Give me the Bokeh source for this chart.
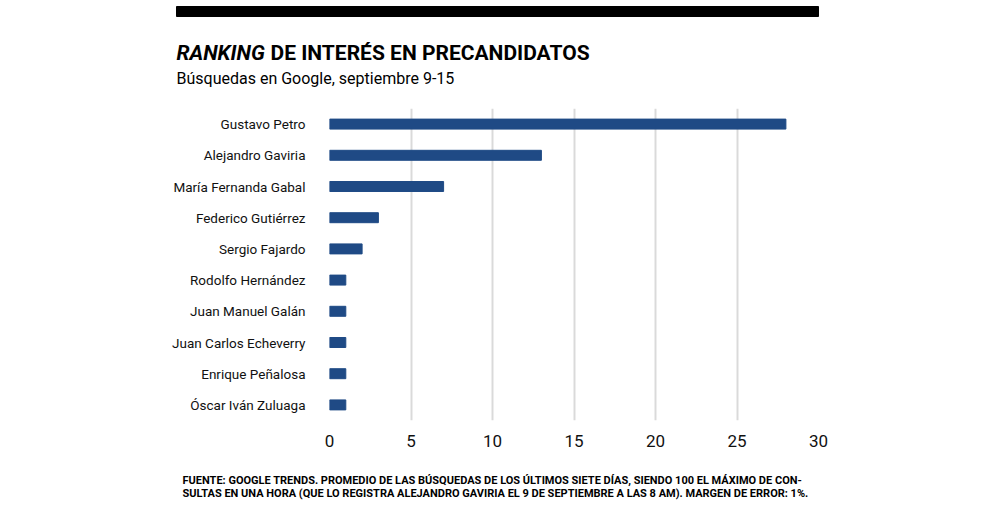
from bokeh.plotting import figure
from bokeh.layouts import column, row
from bokeh.models import FactorRange, FixedTicker, Range1d
from bokeh.core.properties import value
from bokeh.embed import file_html
from bokeh.resources import INLINE

names = ["Gustavo Petro", "Alejandro Gaviria", "María Fernanda Gabal", "Federico Gutiérrez",
         "Sergio Fajardo", "Rodolfo Hernández", "Juan Manuel Galán", "Juan Carlos Echeverry",
         "Enrique Peñalosa", "Óscar Iván Zuluaga"]
values = [28, 13, 7, 3, 2, 1, 1, 1, 1, 1]
x_ticks = [0, 5, 10, 15, 20, 25, 30]

title_italic = "RANKING"
title_rest = "DE INTERÉS EN PRECANDIDATOS"
subtitle = "Búsquedas en Google, septiembre 9-15"
note_lines = [
    "FUENTE: GOOGLE TRENDS. PROMEDIO DE LAS BÚSQUEDAS DE LOS ÚLTIMOS SIETE DÍAS, SIENDO 100 EL MÁXIMO DE CON-",
    "SULTAS EN UNA HORA (QUE LO REGISTRA ALEJANDRO GAVIRIA EL 9 DE SEPTIEMBRE A LAS 8 AM). MARGEN DE ERROR: 1%.",
]

FONT = "Roboto"
BLUE = "#1f4a85"
W = 984


def blank(height):
    f = figure(width=W, height=height, output_backend="svg", toolbar_location=None,
               x_range=Range1d(0, W), y_range=Range1d(height, 0),
               min_border=0, min_border_left=0, min_border_right=0,
               min_border_top=0, min_border_bottom=0)
    f.axis.visible = False
    f.grid.visible = False
    f.outline_line_color = None
    return f


# header (figure pixels, y measured from top)
h = blank(100)
h.quad(left=[176], right=[818], top=[6], bottom=[16], color="black")
h.text(x=[176], y=[52], text=[title_italic], text_font=value(FONT), text_font_style="bold italic",
       text_font_size="21px", text_color="black", text_baseline="alphabetic")
h.text(x=[270], y=[52], text=[title_rest], text_font=value(FONT), text_font_style="bold",
       text_font_size="21px", text_color="black", text_baseline="alphabetic")
h.text(x=[176], y=[78], text=[subtitle], text_font=value(FONT),
       text_font_size="16px", text_color="black", text_baseline="alphabetic")

# main chart
p = figure(width=W, height=360, output_backend="svg", toolbar_location=None,
           y_range=FactorRange(factors=names[::-1], range_padding=0),
           x_range=(0, 30))
p.min_border_left = 329
p.min_border_right = W - 818
p.min_border_top = 8
p.min_border_bottom = 40
p.outline_line_color = None

p.hbar(y=names, right=values, left=0, height=0.32, color=BLUE)

p.xaxis.ticker = FixedTicker(ticks=x_ticks)
p.xaxis.axis_line_color = None
p.xaxis.major_tick_line_color = None
p.xaxis.minor_tick_line_color = None
p.xaxis.major_label_text_font = FONT
p.xaxis.major_label_text_font_size = "17px"
p.xaxis.major_label_text_color = "#111111"
p.xaxis.major_label_standoff = 8

p.yaxis.axis_line_color = None
p.yaxis.major_tick_line_color = None
p.yaxis.major_label_text_font = FONT
p.yaxis.major_label_text_font_size = "13.5px"
p.yaxis.major_label_text_color = "#111111"
p.yaxis.major_label_standoff = 18

p.ygrid.grid_line_color = None
p.xgrid.grid_line_color = "#dadada"
p.xgrid.grid_line_width = 2

# footer
f = blank(60)
f.text(x=[182, 182], y=[20, 33], text=note_lines, text_font=value(FONT), text_font_style="bold",
       text_font_size="11px", text_color="black", text_baseline="middle")

layout = column(row(h), p, row(f), spacing=0)
open("out.html", "w").write(file_html(layout, INLINE))
